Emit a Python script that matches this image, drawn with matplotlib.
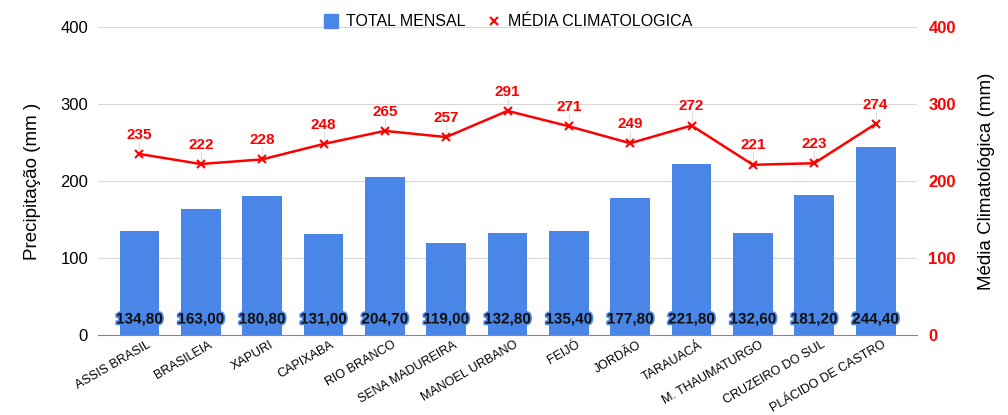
import numpy as np
import matplotlib.pyplot as plt
import matplotlib.patheffects as pe
import matplotlib.transforms as mtransforms
from matplotlib.lines import Line2D

plt.rcParams["font.family"] = ["Liberation Sans", "DejaVu Sans"]

estacoes = ["ASSIS BRASIL", "BRASILEIA", "XAPURI", "CAPIXABA", "RIO BRANCO",
            "SENA MADUREIRA", "MANOEL URBANO", "FEIJÓ", "JORDÃO", "TARAUACÁ",
            "M. THAUMATURGO", "CRUZEIRO DO SUL", "PLÁCIDO DE CASTRO"]
total_mensal = [134.8, 163.0, 180.8, 131.0, 204.7, 119.0, 132.8, 135.4,
                177.8, 221.8, 132.6, 181.2, 244.4]
media_clima = [235, 222, 228, 248, 265, 257, 291, 271, 249, 272, 221, 223, 274]

azul = "#4a86e8"
vermelho = "#ff0000"


def main():
    fig = plt.figure(figsize=(10.08, 4.15), dpi=100)
    ax = fig.add_axes([0.097, 0.193, 0.813, 0.742])
    ax2 = ax.twinx()

    x = np.arange(len(estacoes))
    ax.bar(x, total_mensal, width=0.65, color=azul, zorder=2,
           label="TOTAL MENSAL")
    ax.set_ylim(0, 400)
    ax.set_yticks([0, 100, 200, 300, 400])
    ax.set_xlim(-0.68, len(estacoes) - 0.32)
    ax.grid(axis="y", color="#d9d9d9", lw=0.8, zorder=0)
    ax.set_axisbelow(True)
    for s in ["top", "right", "left"]:
        ax.spines[s].set_visible(False)
    ax.spines["bottom"].set_color("#888888")
    ax.tick_params(axis="y", length=0, labelsize=12, pad=7)
    ax.tick_params(axis="x", length=0, labelsize=9, pad=3)
    ax.set_xticks(x)
    ax.set_xticklabels(estacoes, rotation=30, ha="right", rotation_mode="anchor")
    shift = mtransforms.ScaledTranslation(5 / 72, 0, fig.dpi_scale_trans)
    for t in ax.get_xticklabels():
        t.set_transform(t.get_transform() + shift)
    ax.set_ylabel("Precipitação (mm )", fontsize=13.5, labelpad=14)

    for xi, v in zip(x, total_mensal):
        ax.text(xi, 20, f"{v:.2f}".replace(".", ","), ha="center", va="center",
                fontsize=11, fontweight="bold", color="#111111", zorder=4,
                path_effects=[pe.withStroke(linewidth=2.5, foreground=azul)])

    ax2.plot(x, media_clima, color=vermelho, lw=1.8, marker="x", ms=6,
             mew=1.5, zorder=3, label="MÉDIA CLIMATOLOGICA")
    ax2.set_ylim(0, 400)
    ax2.set_yticks([0, 100, 200, 300, 400])
    for s in ["top", "right", "left", "bottom"]:
        ax2.spines[s].set_visible(False)
    ax2.tick_params(axis="y", length=0, labelsize=12, labelcolor=vermelho, pad=8)
    for t in ax2.get_yticklabels():
        t.set_fontweight("bold")
    ax2.set_ylabel("Média Climatológica (mm)", fontsize=13.5, labelpad=16)

    for xi, v in zip(x, media_clima):
        ax2.plot([xi, xi], [v + 3, v + 16], color="#dddddd", lw=0.8, zorder=1)
        ax2.text(xi, v + 16, str(v), ha="center", va="bottom", fontsize=11,
                 fontweight="bold", color=vermelho)

    _, l1 = ax.get_legend_handles_labels()
    _, l2 = ax2.get_legend_handles_labels()
    h = [Line2D([], [], marker="s", ls="none", color=azul, ms=10),
         Line2D([], [], marker="x", ls="none", color=vermelho, ms=6, mew=1.5)]
    fig.legend(h, l1 + l2, loc="upper center", bbox_to_anchor=(0.503, 1.0),
               ncol=2, frameon=False, fontsize=11.5, handletextpad=0.3,
               handlelength=1.2, columnspacing=1.2)

    fig.savefig("out.png", dpi=100)


if __name__ == "__main__":
    main()
